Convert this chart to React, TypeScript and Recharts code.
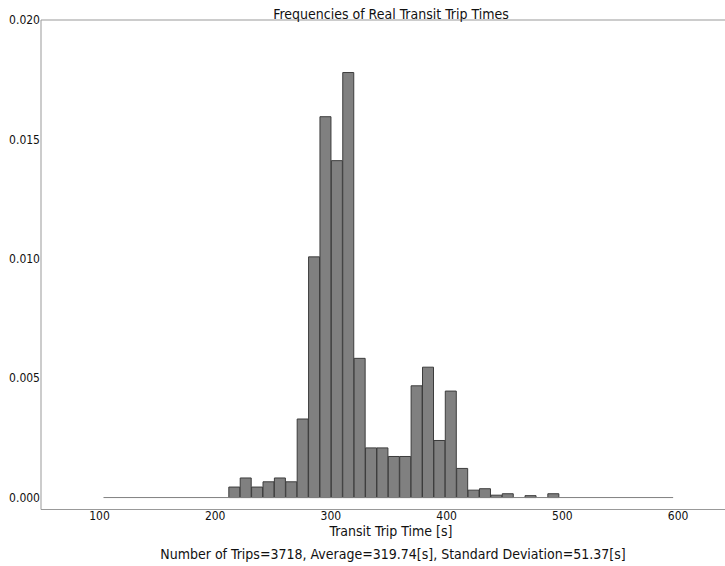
import React from 'react';
import { ComposedChart, Bar, XAxis, YAxis, ReferenceLine } from 'recharts';

// Histogram bins (density)
const binStart = 103.5;
const binWidth = 9.844;
const densities = [
  0, 0, 0, 0, 0, 0, 0, 0, 0, 0,
  0, 0.00044, 0.00082, 0.00044, 0.00066, 0.00082, 0.00066, 0.00329, 0.01008, 0.01595,
  0.01411, 0.0178, 0.00583, 0.00208, 0.00208, 0.00172, 0.00172, 0.00468, 0.00546, 0.00239,
  0.00446, 0.00122, 0.00031, 0.00037, 0.0001, 0.00016, 0, 0.00008, 0, 0.00016,
  0, 0, 0, 0, 0, 0, 0, 0, 0, 0,
];
const xTicks = [100, 200, 300, 400, 500, 600];
const yTicks = [0, 0.005, 0.01, 0.015, 0.02];
const xDomain = [49.5, 650];
const yDomain = [-0.0005, 0.02];
const title = 'Frequencies of Real Transit Trip Times';
const xLabel = 'Transit Trip Time [s]';
const footer = 'Number of Trips=3718, Average=319.74[s], Standard Deviation=51.37[s]';

const data = densities.map((d, i) => ({ mid: binStart + binWidth * (i + 0.5), density: d }));
const binEnd = binStart + binWidth * densities.length;

const FONT = "'DejaVu Sans Condensed', 'DejaVu Sans', sans-serif";
const AXIS = '#999999';
const TEXT = '#111111';

export default function App() {
  return (
    <div style={{ position: 'absolute', left: 0, top: 0, width: 725, height: 566, overflow: 'hidden', background: '#fff' }}>
      <ComposedChart
        width={760}
        height={566}
        data={data}
        margin={{ top: 20, right: 24, bottom: 26.5, left: 0 }}
        barCategoryGap={0}
        barGap={0}
      >
        <XAxis
          dataKey="mid"
          type="number"
          domain={xDomain}
          ticks={xTicks}
          allowDataOverflow
          height={30}
          tickSize={0}
          tickMargin={2}
          tickLine={false}
          axisLine={{ stroke: AXIS, strokeWidth: 1 }}
          tick={{ fontSize: 12, fill: TEXT, fontFamily: FONT }}
        />
        <YAxis
          type="number"
          domain={yDomain}
          ticks={yTicks}
          allowDataOverflow
          width={41}
          tickSize={0}
          tickMargin={1}
          tickLine={false}
          axisLine={{ stroke: AXIS, strokeWidth: 1 }}
          tick={{ fontSize: 12, fill: TEXT, fontFamily: FONT }}
          tickFormatter={(v: number) => v.toFixed(3)}
        />
        <ReferenceLine y={0.02} stroke={AXIS} strokeWidth={1} />
        <ReferenceLine
          segment={[{ x: binStart, y: 0 }, { x: binEnd, y: 0 }]}
          stroke="#808080"
          strokeWidth={1}
        />
        <Bar dataKey="density" fill="#808080" stroke="#3c3c3c" strokeWidth={1} isAnimationActive={false} />
      </ComposedChart>
      <svg
        width={725}
        height={566}
        style={{ position: 'absolute', left: 0, top: 0, pointerEvents: 'none' }}
      >
        <text x={391} y={18.5} textAnchor="middle" fontSize={14} fontFamily={FONT} fill={TEXT}>
          {title}
        </text>
        <text x={391} y={535.7} textAnchor="middle" fontSize={14} fontFamily={FONT} fill={TEXT}>
          {xLabel}
        </text>
        <text x={393} y={559.3} textAnchor="middle" fontSize={14} fontFamily={FONT} fill={TEXT}>
          {footer}
        </text>
      </svg>
    </div>
  );
}
